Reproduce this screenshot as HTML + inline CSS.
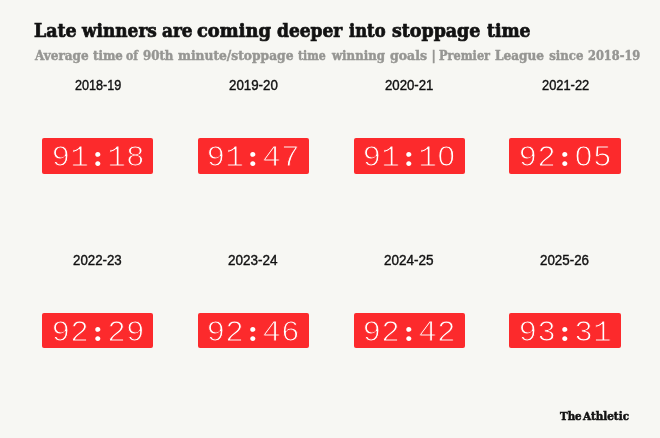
<!DOCTYPE html>
<html lang="en">
<head>
<meta charset="utf-8">
<title>Late winners are coming deeper into stoppage time</title>
<style>
  html, body { margin: 0; padding: 0; }
  body { width: 660px; height: 438px; background: #f7f7f3; position: relative; overflow: hidden; }
  .abs { position: absolute; white-space: nowrap; transform-origin: 0 0; line-height: 1; }
  h1.title { margin: 0; left: 0; top: 19px; width: 660px; height: 22px; font: bold 19px "DejaVu Serif Condensed", "DejaVu Serif", "Liberation Serif", serif; color: #121212; -webkit-text-stroke: 0.7px #121212; }
  p.sub { margin: 0; left: 0; top: 48px; width: 660px; height: 16px; font: bold 13px "DejaVu Serif Condensed", "DejaVu Serif", "Liberation Serif", serif; color: #969693; -webkit-text-stroke: 0.45px #969693; }
  h1.title span, p.sub span { position: absolute; top: 0; transform-origin: 0 0; white-space: nowrap; }
  .card { position: absolute; width: 156px; height: 120px; }
  .card .lbl { position: absolute; top: -0.8px; white-space: nowrap; transform-origin: 0 0; font: 14px "Liberation Sans", sans-serif; color: #111; line-height: 1; -webkit-text-stroke: 0.4px #111; }
  .card .clock { position: absolute; left: 22px; top: 59.4px; width: 111.4px; height: 35.4px; border-radius: 2px; background: #fc2a2c; color: #fff; font: 30px "Liberation Mono", monospace; line-height: 41.8px; text-align: center; }
  .clock .t { display: inline-block; transform: scaleX(1.032); transform-origin: 50% 50%; -webkit-text-stroke: 1px #fc2a2c; }
  .clock .z { position: relative; }
  .clock .z::after { content: ""; position: absolute; left: 50%; top: 50%; width: 5px; height: 6px; margin: -6px 0 0 -2.5px; background: #fc2a2c; }
  .clock .c { display: inline-block; width: 18px; text-align: center; font: bold 30px "Liberation Serif", serif; line-height: 1; -webkit-text-stroke: 0; }
  .logo { left: 0; top: 409.4px; width: 660px; height: 14px; font: bold 11.5px "DejaVu Serif Condensed", "DejaVu Serif", serif; color: #121212; -webkit-text-stroke: 0.5px #121212; }
  .logo span { position: absolute; top: 0; transform-origin: 0 0; white-space: nowrap; }
</style>
</head>
<body>
  <h1 class="abs title"><span style="left:33.59px;transform:scaleX(1.0195)">Late</span> <span style="left:81.75px;transform:scaleX(0.9901)">winners</span> <span style="left:162.13px;transform:scaleX(0.9859)">are</span> <span style="left:196.61px;transform:scaleX(1.0444)">coming</span> <span style="left:277.13px;transform:scaleX(0.9962)">deeper</span> <span style="left:349.26px;transform:scaleX(0.9568)">into</span> <span style="left:391.62px;transform:scaleX(1.0189)">stoppage</span> <span style="left:487.00px;transform:scaleX(1.0029)">time</span></h1>
  <p class="abs sub"><span style="left:34.76px;transform:scaleX(1.0264)">Average</span> <span style="left:92.50px;transform:scaleX(1.0043)">time</span> <span style="left:126.24px;transform:scaleX(0.9300)">of</span> <span style="left:142.62px;transform:scaleX(1.0084)">90th</span> <span style="left:177.87px;transform:scaleX(1.0466)">minute/stoppage</span> <span style="left:298.00px;transform:scaleX(0.9362)">time</span> <span style="left:331.58px;transform:scaleX(1.0057)">winning</span> <span style="left:389.98px;transform:scaleX(1.0700)">goals</span> <span style="left:431.62px;transform:scaleX(1.0000)">|</span> <span style="left:439.14px;transform:scaleX(0.9668)">Premier</span> <span style="left:495.11px;transform:scaleX(1.0332)">League</span> <span style="left:549.25px;transform:scaleX(1.0000)">since</span> <span style="left:588.31px;transform:scaleX(0.9729)">2018-19</span></p>

  <div class="card" style="left:20.05px;top:79.00px"><div class="lbl" style="left:54.80px;transform:scaleX(0.9012)">2018-19</div><div class="clock"><span class="t">91<span class="c">:</span>18</span></div></div>
  <div class="card" style="left:175.78px;top:79.00px"><div class="lbl" style="left:53.54px;transform:scaleX(0.9505)">2019-20</div><div class="clock"><span class="t">91<span class="c">:</span>47</span></div></div>
  <div class="card" style="left:331.51px;top:79.00px"><div class="lbl" style="left:53.82px;transform:scaleX(0.9429)">2020-21</div><div class="clock"><span class="t">91<span class="c">:</span>1<span class="z">0</span></span></div></div>
  <div class="card" style="left:487.24px;top:79.00px"><div class="lbl" style="left:54.30px;transform:scaleX(0.9191)">2021-22</div><div class="clock"><span class="t">92<span class="c">:</span><span class="z">0</span>5</span></div></div>

  <div class="card" style="left:20.05px;top:253.30px"><div class="lbl" style="left:53.38px;transform:scaleX(0.9485)">2022-23</div><div class="clock"><span class="t">92<span class="c">:</span>29</span></div></div>
  <div class="card" style="left:175.78px;top:253.30px"><div class="lbl" style="left:52.64px;transform:scaleX(0.9659)">2023-24</div><div class="clock"><span class="t">92<span class="c">:</span>46</span></div></div>
  <div class="card" style="left:331.51px;top:253.30px"><div class="lbl" style="left:52.81px;transform:scaleX(0.9663)">2024-25</div><div class="clock"><span class="t">92<span class="c">:</span>42</span></div></div>
  <div class="card" style="left:487.24px;top:253.30px"><div class="lbl" style="left:53.08px;transform:scaleX(0.9545)">2025-26</div><div class="clock"><span class="t">93<span class="c">:</span>31</span></div></div>

  <div class="abs logo"><span style="left:559.62px;transform:scaleX(0.9931)">The</span> <span style="left:583.08px;transform:scaleX(1.0071)">Athletic</span></div>
</body>
</html>
